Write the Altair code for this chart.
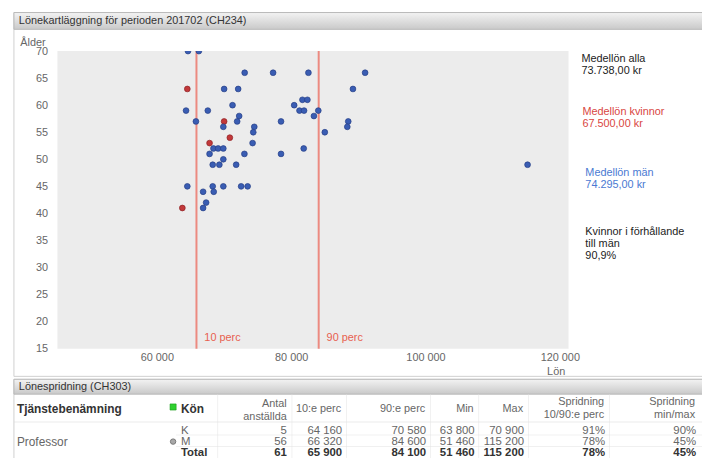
import altair as alt
import pandas as pd

# ---------------- data ----------------
lon_k = [64540, 70020, 67850, 70870, 63800]
alder_k = [63, 57, 53, 54, 41]

lon_m = [64640, 66260, 73080, 77310, 82570, 91010, 70020, 72110, 89200, 71270,
         80450, 81680, 82420, 64350, 67590, 81240, 81920, 84040, 72260, 83390,
         65820, 71960, 78490, 88500, 69900, 74510, 88360, 74360, 85010, 74260,
         68430, 69130, 69900, 81870, 67850, 73040, 78490, 69900, 68320, 69310,
         71810, 64540, 68320, 69900, 72550, 73520, 66890, 68470, 67340, 66890,
         115200]
alder_m = [70, 70, 66, 66, 66, 66, 63, 63, 63, 60,
           60, 61, 61, 59, 59, 59, 59, 59, 58, 58,
           57, 57, 57, 57, 56, 56, 56, 55, 55, 53,
           52, 52, 52, 52, 51, 51, 51, 50, 49, 49,
           49, 45, 45, 45, 45, 45, 44, 44, 42, 41,
           49]

perc_values = [65900, 84100]
perc_labels = ["10 perc", "90 perc"]

x_ticks = [60000, 80000, 100000, 120000]
y_ticks = [15, 20, 25, 30, 35, 40, 45, 50, 55, 60, 65, 70]

annot_titles = ["Medellön alla", "Medellön kvinnor", "Medellön män",
                "Kvinnor i förhållande\ntill män"]
annot_values = ["73.738,00 kr", "67.500,00 kr", "74.295,00 kr", "90,9%"]

panel_titles = ["Lönekartläggning för perioden 201702 (CH234)", "Lönespridning (CH303)"]

table_headers = ["Tjänstebenämning", "Kön", "Antal\nanställda", "10:e perc", "90:e perc",
                 "Min", "Max", "Spridning\n10/90:e perc", "Spridning\nmin/max"]
tjanst = ["Professor"]
kon = ["K", "M", "Total"]
antal = [5, 56, 61]
p10 = [64160, 66320, 65900]
p90 = [70580, 84600, 84100]
lon_min = [63800, 51460, 51460]
lon_max = [70900, 115200, 115200]
spr_1090 = [0.91, 0.78, 0.78]
spr_minmax = [0.90, 0.45, 0.45]

# ---------------- styling ----------------
W, H = 517, 301
RED = "#c2383a"
BLUE = "#3a5db3"
FONT = "Liberation Sans"

pts = pd.DataFrame({
    "lon": lon_k + lon_m,
    "alder": alder_k + alder_m,
    "kon": ["K"] * len(lon_k) + ["M"] * len(lon_m),
})
perc = pd.DataFrame({"perc": perc_values, "label": perc_labels})
tdf = pd.DataFrame({"kon": kon, "antal": antal, "p10": p10, "p90": p90,
                    "mn": lon_min, "mx": lon_max, "s1": spr_1090, "s2": spr_minmax})
one = pd.DataFrame({"d": [0]})

xs = alt.Scale(domain=[45200, 121300], nice=False, zero=False)
ys = alt.Scale(domain=[15, 70], nice=False, zero=False)

x_axis = alt.Axis(values=x_ticks, labelExpr="replace(format(datum.value, ','), ',', ' ')",
                  grid=False, ticks=False, domain=False, orient="bottom",
                  labelColor="#666", labelFontSize=11, labelPadding=3, labelFont=FONT,
                  title="Lön", titleX=504, titleY=23, titleAlign="center",
                  titleBaseline="middle", titleFontWeight="normal", titleFontSize=11,
                  titleColor="#666", titleFont=FONT)
y_axis = alt.Axis(values=y_ticks, grid=False, ticks=False, domain=False, orient="left",
                  labelColor="#666", labelFontSize=11, labelPadding=10, labelFont=FONT,
                  title="Ålder", titleAngle=0, titleX=-38, titleY=-9, titleAlign="left",
                  titleBaseline="middle", titleFontWeight="normal", titleFontSize=11,
                  titleColor="#666", titleFont=FONT)

layers = []

# ---- panel frames and header bars ----
def rect(x1, x2, y1, y2, **kw):
    return alt.Chart(one).mark_rect(**kw).encode(
        x=alt.value(x1), x2=alt.value(x2), y=alt.value(y1), y2=alt.value(y2))

grad = alt.Gradient(gradient="linear",
                    stops=[alt.GradientStop(color="#f3f3f3", offset=0),
                           alt.GradientStop(color="#c9c9c9", offset=1)],
                    x1=0, x2=0, y1=0, y2=1)

layers.append(rect(-44, 660, -39, 329, fill="white", fillOpacity=0, stroke="#cfcfcf", strokeWidth=1))
layers.append(rect(-44, 660, 332, 420, fill="white", fillOpacity=0, stroke="#cfcfcf", strokeWidth=1))
layers.append(rect(-44, 660, -39, -22, fill=grad, stroke="#b9b9b9", strokeWidth=1))
layers.append(rect(-44, 660, 332, 347, fill=grad, stroke="#b9b9b9", strokeWidth=1))

for t, yv in zip(panel_titles, [-30.5, 339.5]):
    layers.append(alt.Chart(one).mark_text(align="left", baseline="middle", fontSize=11,
                                           color="#333", font=FONT).encode(
        x=alt.value(-39), y=alt.value(yv), text=alt.value(t)))

# ---- scatter ----
layers.append(alt.Chart(perc).mark_rule(color="#ec8a80", strokeWidth=2).encode(
    x=alt.X("perc:Q", scale=xs, axis=x_axis)))
layers.append(alt.Chart(perc).mark_text(align="left", baseline="middle", dx=8, fontSize=11,
                                        color="#e8604f", font=FONT).encode(
    x=alt.X("perc:Q", scale=xs, axis=x_axis), y=alt.value(290), text="label:N"))
layers.append(alt.Chart(pts).mark_circle(size=34, opacity=1, clip=True, strokeWidth=0.7).encode(
    x=alt.X("lon:Q", scale=xs, axis=x_axis),
    y=alt.Y("alder:Q", scale=ys, axis=y_axis),
    color=alt.Color("kon:N", scale=alt.Scale(domain=["K", "M"], range=[RED, BLUE]), legend=None),
    stroke=alt.Stroke("kon:N", scale=alt.Scale(domain=["K", "M"], range=["#8e2224", "#253f85"]),
                      legend=None)))

# ---- right-hand annotations ----
annot_colors = ["#222222", "#d9463f", "#4a79d2", "#222222"]
annot_x = [530, 531, 534, 534]
annot_y = [2, 56, 117, 177]
for t, v, c, xv, yv in zip(annot_titles, annot_values, annot_colors, annot_x, annot_y):
    layers.append(alt.Chart(one).mark_text(align="left", baseline="top", fontSize=11,
                                           lineHeight=12, lineBreak="\n", color=c,
                                           font=FONT).encode(
        x=alt.value(xv), y=alt.value(yv), text=alt.value(t + "\n" + v)))

# ---- table ----
sep = "#e2e2e2"
layers.append(rect(-44, 660, 375, 375.5, fill="#d6d6d6"))
for yv in [388, 399.5]:
    layers.append(rect(120, 660, yv, yv + 0.5, fill=sep))
for xv in [162, 237, 292, 377, 426, 476, 558]:
    layers.append(rect(xv, xv + 0.5, 347, 420, fill=sep))

head_x = [-41, 125, 232, 287, 372, 421, 471, 553, 645]
head_y = [362, 362, 357, 362, 362, 362, 362, 355, 355]
for i, (h, xv, yv) in enumerate(zip(table_headers, head_x, head_y)):
    bold = i < 2
    layers.append(alt.Chart(one).mark_text(
        align="left" if i < 2 else "right", baseline="middle", lineBreak="\n", lineHeight=13,
        fontSize=12 if bold else 11, fontWeight="bold" if bold else "normal",
        color="#333" if bold else "#666", font=FONT).encode(
        x=alt.value(xv), y=alt.value(yv), text=alt.value(h)))

# green marker and group icon
layers.append(alt.Chart(one).mark_point(shape="square", filled=True, size=38, color="#2fd12f",
                                        stroke="#1a9a1a", strokeWidth=0.6, opacity=1).encode(
    x=alt.value(117), y=alt.value(360)))
layers.append(alt.Chart(one).mark_point(shape="circle", filled=True, size=30, color="#a8a8a8",
                                        stroke="#777", strokeWidth=1, opacity=1).encode(
    x=alt.value(117), y=alt.value(395)))
layers.append(alt.Chart(one).mark_text(align="left", baseline="middle", fontSize=12,
                                       color="#666", font=FONT).encode(
    x=alt.value(-41), y=alt.value(395), text=alt.value(tjanst[0])))

row_scale = alt.Scale(domain=kon, range=[384, 407], padding=0)
tcols = [("kon", 125, "left", None), ("antal", 232, "right", "num"), ("p10", 288, "right", "num"),
         ("p90", 373, "right", "num"), ("mn", 422, "right", "num"), ("mx", 472, "right", "num"),
         ("s1", 554, "right", "pct"), ("s2", 646, "right", "pct")]
base_t = alt.Chart(tdf)
for f, xv, al, kind in tcols:
    if kind == "num":
        expr = "replace(format(datum['%s'], ','), ',', ' ')" % f
    elif kind == "pct":
        expr = "format(datum['%s'], '.0%%')" % f
    else:
        expr = "datum['%s']" % f
    for is_total in (False, True):
        flt = "datum.kon == 'Total'" if is_total else "datum.kon != 'Total'"
        layers.append(base_t.transform_filter(flt).transform_calculate(txt=expr).mark_text(
            align=al, baseline="middle", fontSize=11.5,
            fontWeight="bold" if is_total else "normal",
            color="#333" if is_total else "#666", font=FONT).encode(
            x=alt.value(xv),
            y=alt.Y("kon:N", scale=row_scale, axis=None),
            text="txt:N"))

chart = alt.layer(*layers).resolve_scale(y="independent").properties(
    width=W, height=H,
    padding={"left": 50, "top": 41, "right": 135, "bottom": 108},
    autosize=alt.AutoSizeParams(type="none"),
    background="white",
).configure_view(fill="#ececec", stroke=None).configure_text(font=FONT)

chart.save("out.html", embed_options={"renderer": "svg", "actions": False})
